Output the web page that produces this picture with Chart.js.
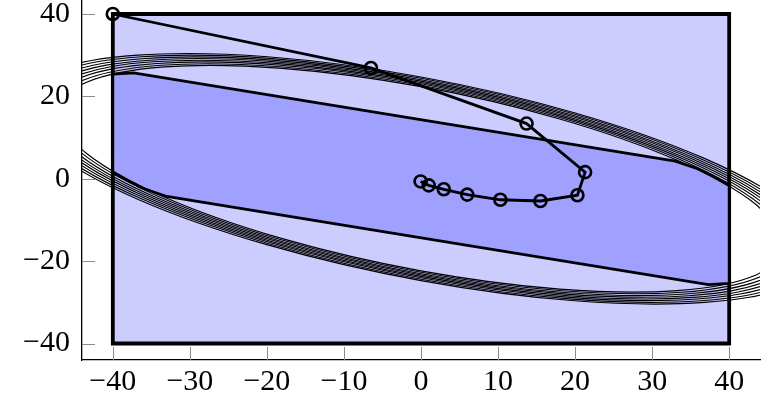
<!DOCTYPE html>
<html><head><meta charset="utf-8">
<script src="https://cdn.jsdelivr.net/npm/chart.js@4/dist/chart.umd.min.js"></script>
<style>html,body{margin:0;padding:0;background:#fff;}canvas{display:block;}</style>
</head><body>
<canvas id="c" width="763" height="398"></canvas>
<script>
// ---- tick values and labels ----
const xTickValues = [-40, -30, -20, -10, 0, 10, 20, 30, 40];
const xTickLabels = ['\u221240', '\u221230', '\u221220', '\u221210', '0', '10', '20', '30', '40'];
const yTickValues = [-40, -20, 0, 20, 40];
const yTickLabels = ['\u221240', '\u221220', '0', '20', '40'];

// ---- square box ----
const boxX = [-40, 40, 40, -40, -40];
const boxY = [-40, -40, 40, 40, -40];

// ---- darker band region (band clipped by box and ellipse) ----
const bandX = [-40, -37.3, 33, 36, 38, 40, 40, 37.3, -33, -36, -38, -40, -40];
const bandY = [25.4, 25.7, 4.3, 2.37, 0.48, -1.62, -25.4, -25.7, -4.3, -2.37, -0.48, 1.62, 25.4];

// ---- path with circle markers ----
const pathX = [-40, -6.5, 13.7, 21.3, 20.3, 15.5, 10.3, 6.0, 2.96, 1.0, -0.05];
const pathY = [40, 26.9, 13.4, 1.6, -4.0, -5.4, -5.1, -3.85, -2.55, -1.6, -0.65];

// ---- bundle of ellipses ----
const ellipse1 = [[47.06,-16.04],[43.48,-6.26],[33.28,4.47],[18.00,14.53],[0,22.36],[-18.02,26.80],[-33.29,27.16],[-43.48,23.37],
  [-47.06,16.04],[-43.48,6.26],[-33.28,-4.47],[-18.00,-14.53],[0,-22.36],[18.02,-26.80],[33.29,-27.16],[43.48,-23.37],[47.06,-16.04]];
const ellipse2 = [[47.76,-16.27],[44.12,-6.35],[33.77,4.54],[18.27,14.74],[0,22.69],[-18.29,27.19],[-33.78,27.56],[-44.12,23.71],
  [-47.76,16.27],[-44.12,6.35],[-33.77,-4.54],[-18.27,-14.74],[0,-22.69],[18.29,-27.19],[33.78,-27.56],[44.12,-23.71],[47.76,-16.27]];
const ellipse3 = [[48.50,-16.53],[44.81,-6.45],[34.29,4.61],[18.55,14.97],[0,23.05],[-18.57,27.62],[-34.30,27.99],[-44.81,24.08],
  [-48.50,16.53],[-44.81,6.45],[-34.29,-4.61],[-18.55,-14.97],[0,-23.05],[18.57,-27.62],[34.30,-27.99],[44.81,-24.08],[48.50,-16.53]];
const ellipse4 = [[49.19,-16.76],[45.45,-6.54],[34.78,4.68],[18.82,15.18],[0,23.38],[-18.84,28.01],[-34.79,28.39],[-45.45,24.43],
  [-49.19,16.76],[-45.45,6.54],[-34.78,-4.68],[-18.82,-15.18],[0,-23.38],[18.84,-28.01],[34.79,-28.39],[45.45,-24.43],[49.19,-16.76]];
const ellipse5 = [[49.89,-17.00],[46.09,-6.64],[35.28,4.74],[19.08,15.40],[0,23.70],[-19.10,28.41],[-35.29,28.79],[-46.09,24.77],
  [-49.89,17.00],[-46.09,6.64],[-35.28,-4.74],[-19.08,-15.40],[0,-23.70],[19.10,-28.41],[35.29,-28.79],[46.09,-24.77],[49.89,-17.00]];
const ellipse6 = [[50.58,-17.23],[46.73,-6.73],[35.77,4.81],[19.35,15.61],[0,24.03],[-19.37,28.80],[-35.78,29.19],[-46.73,25.12],
  [-50.58,17.23],[-46.73,6.73],[-35.77,-4.81],[-19.35,-15.61],[0,-24.03],[19.37,-28.80],[35.78,-29.19],[46.73,-25.12],[50.58,-17.23]];
const ellipse7 = [[51.32,-17.49],[47.42,-6.83],[36.29,4.88],[19.63,15.84],[0,24.39],[-19.65,29.23],[-36.30,29.62],[-47.42,25.49],
  [-51.32,17.49],[-47.42,6.83],[-36.29,-4.88],[-19.63,-15.84],[0,-24.39],[19.65,-29.23],[36.30,-29.62],[47.42,-25.49],[51.32,-17.49]];
const ellipse8 = [[52.02,-17.72],[48.06,-6.92],[36.78,4.95],[19.90,16.05],[0,24.72],[-19.92,29.62],[-36.79,30.02],[-48.06,25.83],
  [-52.02,17.72],[-48.06,6.92],[-36.78,-4.95],[-19.90,-16.05],[0,-24.72],[19.92,-29.62],[36.79,-30.02],[48.06,-25.83],[52.02,-17.72]];

const ellipses = [ellipse1, ellipse2, ellipse3, ellipse4, ellipse5, ellipse6, ellipse7, ellipse8];

function toPts(xs, ys) { return xs.map((x, i) => ({x: x, y: ys[i]})); }
function pairPts(arr) { return arr.map(p => ({x: p[0], y: p[1]})); }

const datasets = [];
datasets.push({
  label: 'path', data: toPts(pathX, pathY), showLine: true, fill: false,
  borderColor: '#000', borderWidth: 2.8, tension: 0,
  pointRadius: 6, pointBorderWidth: 2.6, pointBorderColor: '#000',
  pointBackgroundColor: 'rgba(0,0,0,0)', order: 1
});
ellipses.forEach((e, i) => datasets.push({
  label: 'ellipse' + (i + 1), data: pairPts(e), showLine: true, fill: false,
  borderColor: '#000', borderWidth: 1.1, tension: 0.343, pointRadius: 0, order: 2
}));
datasets.push({
  label: 'band', data: toPts(bandX, bandY), showLine: true, fill: 'shape',
  backgroundColor: '#a0a0ff', borderColor: '#000', borderWidth: 2.8, tension: 0,
  pointRadius: 0, order: 3
});
datasets.push({
  label: 'box', data: toPts(boxX, boxY), showLine: true, fill: 'shape',
  backgroundColor: '#ccccff', borderColor: '#000', borderWidth: 3.8, tension: 0,
  borderJoinStyle: 'miter', borderCapStyle: 'square', pointRadius: 0, order: 4
});

const inwardTicks = {
  id: 'inwardTicks',
  afterDatasetsDraw(chart) {
    const ctx = chart.ctx, a = chart.chartArea, xs = chart.scales.x, ys = chart.scales.y;
    ctx.save();
    ctx.strokeStyle = '#8c8c8c';
    ctx.lineWidth = 1;
    ctx.beginPath();
    xTickValues.forEach(v => {
      const px = Math.round(xs.getPixelForValue(v)) + 0.5;
      ctx.moveTo(px, a.bottom); ctx.lineTo(px, a.bottom - 13);
    });
    yTickValues.forEach(v => {
      const py = Math.round(ys.getPixelForValue(v)) + 0.5;
      ctx.moveTo(a.left, py); ctx.lineTo(a.left + 13, py);
    });
    ctx.stroke();
    ctx.restore();
  }
};

const tickFont = {family: '"Liberation Serif", "Times New Roman", serif', size: 30, lineHeight: 1.2};
function noPad(s) { s.paddingTop = 0; s.paddingBottom = 0; s.paddingLeft = 0; s.paddingRight = 0; }

new Chart(document.getElementById('c'), {
  type: 'scatter',
  data: {datasets: datasets},
  options: {
    responsive: false, animation: false, devicePixelRatio: 1, events: [],
    layout: {autoPadding: false, padding: {left: 0, right: 3, top: 0, bottom: 0}},
    elements: {line: {capBezierPoints: false}},
    plugins: {legend: {display: false}, tooltip: {enabled: false}},
    scales: {
      x: {
        type: 'linear', position: 'bottom', min: -44, max: 44,
        afterBuildTicks: s => { s.ticks = xTickValues.map(v => ({value: v})); },
        afterFit: s => { s.height = 38; noPad(s); },
        grid: {display: false, drawTicks: false},
        border: {display: true, color: '#000', width: 1.3},
        ticks: {callback: (v, i) => xTickLabels[i], font: tickFont, color: '#000',
                padding: 4, maxRotation: 0, autoSkip: false}
      },
      y: {
        type: 'linear', position: 'left', min: -44, max: 43.4,
        afterBuildTicks: s => { s.ticks = yTickValues.map(v => ({value: v})); },
        afterFit: s => { s.width = 82; noPad(s); },
        grid: {display: false, drawTicks: false},
        border: {display: true, color: '#000', width: 1.3},
        ticks: {callback: (v, i) => yTickLabels[i], font: tickFont, color: '#000',
                padding: 12, autoSkip: false}
      }
    }
  },
  plugins: [inwardTicks]
});
</script>
</body></html>
